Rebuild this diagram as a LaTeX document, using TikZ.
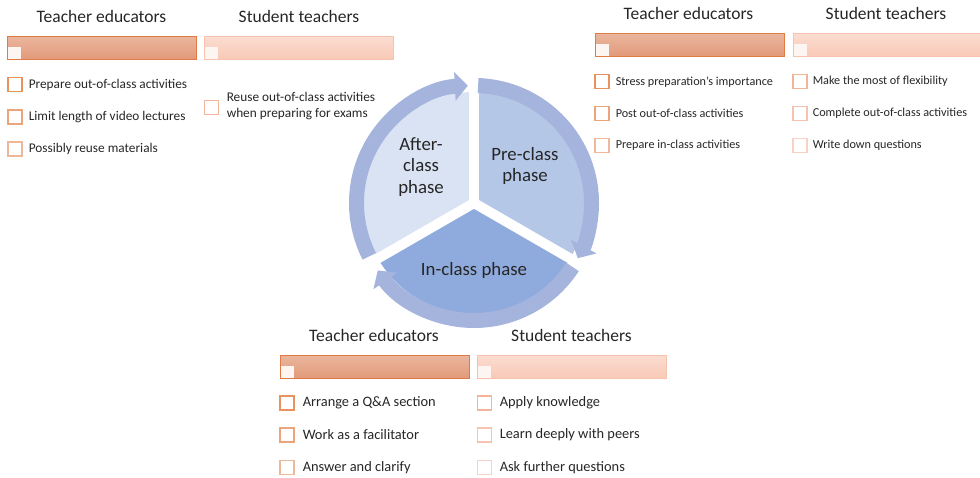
\documentclass[tikz,border=0pt]{standalone}
\usepackage{fontspec}
\setmainfont{Carlito}
\usepackage{xcolor}
\usepackage{tikz}
\usetikzlibrary{arrows.meta,positioning}
\definecolor{ink}{HTML}{262626}
\definecolor{teline}{HTML}{E07B46}
\definecolor{tetop}{HTML}{EAB59C}
\definecolor{tebot}{HTML}{E2997A}
\definecolor{stline}{HTML}{F7C3AE}
\definecolor{sttop}{HTML}{FBDCD0}
\definecolor{stbot}{HTML}{F8C8B6}
\definecolor{tabfill}{HTML}{FDF5F2}
\definecolor{teboxa}{HTML}{E8925D}
\definecolor{teboxb}{HTML}{ECA47C}
\definecolor{teboxc}{HTML}{F0B89A}
\definecolor{stboxa}{HTML}{F4B49C}
\definecolor{stboxb}{HTML}{F6C3B0}
\definecolor{stboxc}{HTML}{F8D2C4}
\definecolor{afterfill}{HTML}{DAE3F3}
\definecolor{prefill}{HTML}{B4C7E7}
\definecolor{infill}{HTML}{8FAADC}
\definecolor{ring}{HTML}{A5B4DC}
\tikzset{
  head/.style={text=ink,font=\fontsize{17.5}{21}\selectfont,inner sep=0pt},
  tebar/.style={rectangle,draw=teline,line width=1pt,top color=tetop,bottom color=tebot,
    minimum width=189pt,minimum height=23pt,inner sep=0pt},
  stbar/.style={rectangle,draw=stline,line width=1pt,top color=sttop,bottom color=stbot,
    minimum width=189pt,minimum height=23pt,inner sep=0pt},
  tab/.style={rectangle,fill=tabfill,minimum width=13pt,minimum height=12pt,inner sep=0pt,
    anchor=south west},
  chk/.style={rectangle,draw,color=#1,line width=1.1pt,minimum size=14pt,inner sep=0pt},
  item/.style={text=ink,font=\fontsize{#1}{16}\selectfont,inner sep=0pt,anchor=west,align=left},
  item/.default=13.3,
  phase/.style={text=ink,font=\fontsize{18.8}{21.5}\selectfont,align=center,inner sep=0pt},
  gap/.style={white,line width=10pt},
  cyc/.style={ring,line width=15pt,-{Triangle[width=28pt,length=13pt]}}
}

\begin{document}
\begin{tikzpicture}[x=1pt,y=1pt]
\useasboundingbox (0,0) rectangle (980,478);

% phase cycle
\coordinate (c) at (474,275);
\fill[afterfill] (c) -- ++(90:111) arc[start angle=90,end angle=210,radius=111pt] -- cycle;
\fill[prefill] (c) -- ++(-30:111) arc[start angle=-30,end angle=90,radius=111pt] -- cycle;
\fill[infill] (c) -- ++(210:111) arc[start angle=210,end angle=330,radius=111pt] -- cycle;
\draw[gap] (c) -- ++(90:113); \draw[gap] (c) -- ++(210:113); \draw[gap] (c) -- ++(330:113);
\draw[cyc] ([shift={(88:117.5)}]c) arc[start angle=88,end angle=-28,radius=117.5pt];
\draw[cyc] ([shift={(-33:117.5)}]c) arc[start angle=-33,end angle=-145,radius=117.5pt];
\draw[cyc] ([shift={(-153:117.5)}]c) arc[start angle=-153,end angle=-267,radius=117.5pt];
\node[phase] (after) at (421,311) {After-\\class\\phase};
\node[phase] (pre) at (525,312) {Pre-class\\phase};
\node[phase] (in) at (474,208) {In-class phase};

% after-class panel
\node[head] (teA) at (101.5,462) {Teacher educators};
\node[head] (stA) at (299,462) {Student teachers};
\node[tebar] (barTeA) at (102,429.5) {};
\node[tab] at ([shift={(1pt,1pt)}]barTeA.south west) {};
\node[stbar] (barStA) at (298.5,429.5) {};
\node[tab] at ([shift={(1pt,1pt)}]barStA.south west) {};
\node[chk=teboxa] (teA1) at (15,393.5) {};
\node[chk=teboxb] (teA2) at (15,361) {};
\node[chk=teboxc] (teA3) at (15,329) {};
\node[item,right=6pt of teA1] {Prepare out-of-class activities};
\node[item,right=6pt of teA2] {Limit length of video lectures};
\node[item,right=6pt of teA3] {Possibly reuse materials};
\node[chk=stboxa] (stA1) at (211.5,370.5) {};
\node[item,right=7.5pt of stA1,yshift=1.5pt] {Reuse out-of-class activities\\when preparing for exams};

% pre-class panel
\node[head] (teB) at (688.5,465) {Teacher educators};
\node[head] (stB) at (886,465) {Student teachers};
\node[tebar] (barTeB) at (689.5,432.5) {};
\node[tab] at ([shift={(1pt,1pt)}]barTeB.south west) {};
\node[stbar,minimum width=188pt] (barStB) at (887,432.5) {};
\node[tab] at ([shift={(1pt,1pt)}]barStB.south west) {};
\node[chk=teboxa] (teB1) at (602,396.3) {};
\node[chk=teboxb] (teB2) at (602,364.7) {};
\node[chk=teboxc] (teB3) at (602,332.3) {};
\node[item=12.2,right=6pt of teB1] {Stress preparation’s importance};
\node[item=12.2,right=6pt of teB2] {Post out-of-class activities};
\node[item=12.2,right=6pt of teB3] {Prepare in-class activities};
\node[chk=stboxa] (stB1) at (800,396.3) {};
\node[chk=stboxb] (stB2) at (800,364.7) {};
\node[chk=stboxc] (stB3) at (800,332.3) {};
\node[item=12.2,right=5pt of stB1] {Make the most of flexibility};
\node[item=12.2,right=5pt of stB2] {Complete out-of-class activities};
\node[item=12.2,right=5pt of stB3] {Write down questions};

% in-class panel
\node[head] (teC) at (374,143) {Teacher educators};
\node[head] (stC) at (571.5,143) {Student teachers};
\node[tebar] (barTeC) at (374.5,110.5) {};
\node[tab] at ([shift={(1pt,1pt)}]barTeC.south west) {};
\node[stbar] (barStC) at (572,110.5) {};
\node[tab] at ([shift={(1pt,1pt)}]barStC.south west) {};
\node[chk=teboxa] (teC1) at (287,75) {};
\node[chk=teboxb] (teC2) at (287,43) {};
\node[chk=teboxc] (teC3) at (287,10.5) {};
\node[item=14.4,right=8pt of teC1] {Arrange a Q\&A section};
\node[item=14.4,right=8pt of teC2] {Work as a facilitator};
\node[item=14.4,right=8pt of teC3] {Answer and clarify};
\node[chk=stboxa] (stC1) at (484.5,75) {};
\node[chk=stboxb] (stC2) at (484.5,43) {};
\node[chk=stboxc] (stC3) at (484.5,10.5) {};
\node[item=14.4,right=7.5pt of stC1] {Apply knowledge};
\node[item=14.4,right=7.5pt of stC2] {Learn deeply with peers};
\node[item=14.4,right=7.5pt of stC3] {Ask further questions};
\end{tikzpicture}
\end{document}
